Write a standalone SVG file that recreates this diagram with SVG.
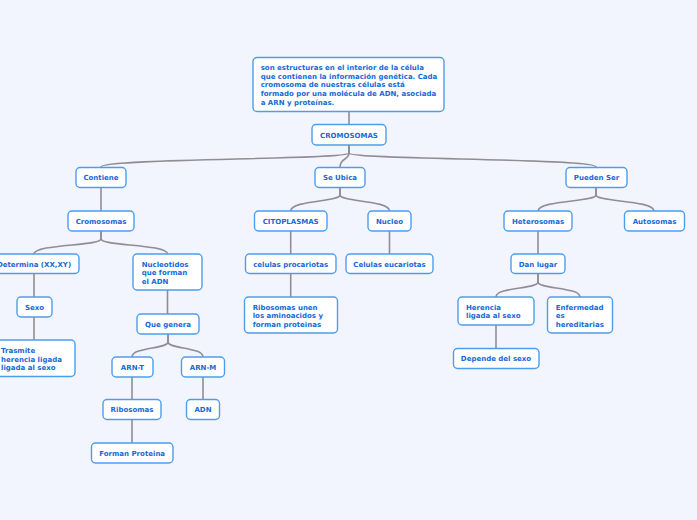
<svg xmlns="http://www.w3.org/2000/svg" width="697" height="520" viewBox="0 0 697 520">
<style>
.n rect{fill:#ffffff;stroke:#4c9df0;stroke-width:1.4}
.n text{fill:#1768d6;font-family:"DejaVu Sans",Verdana,sans-serif;font-weight:bold;font-size:7px}
.c{text-anchor:middle}
#connectors path{fill:none;stroke:#8e8e94;stroke-width:1.6}
</style>
<rect x="0" y="0" width="697" height="520" fill="#f2f5fd"/>
<g id="connectors">
<path d="M349 112V124"/>
<path d="M349 145V153C349 160 101 158 101 167"/>
<path d="M349 145V153C349 160 340 158 340 167"/>
<path d="M349 145V153C349 160 596 158 596 167"/>
<path d="M101 187V211"/>
<path d="M101 231V239C101 246 34 244 34 254"/>
<path d="M101 231V239C101 246 167.5 244 167.5 254"/>
<path d="M34 274V297"/>
<path d="M34 317V340"/>
<path d="M167.5 290V314"/>
<path d="M168 334V342C168 349 132 347 132 357"/>
<path d="M168 334V342C168 349 203 347 203 357"/>
<path d="M132 377V399"/>
<path d="M132 419V443"/>
<path d="M203 377V399"/>
<path d="M340 187V195C340 202 290.7 200 290.7 211"/>
<path d="M340 187V195C340 202 389.5 200 389.5 211"/>
<path d="M290.7 231V254"/>
<path d="M290.7 274V297"/>
<path d="M389.5 231V254"/>
<path d="M596 187V195C596 202 538 200 538 211"/>
<path d="M596 187V195C596 202 654 200 654 211"/>
<path d="M538 231V254"/>
<path d="M538 274V282C538 289 496 287 496 297"/>
<path d="M538 274V282C538 289 580 287 580 297"/>
<path d="M496 325V348"/>
</g>
<g id="n-def" class="n"><rect x="253" y="57.5" width="191" height="54" rx="4"/>
<text x="260.7" y="69.8">son estructuras en el interior de la célula</text>
<text x="260.7" y="78.5">que contienen la información genética. Cada</text>
<text x="260.7" y="87.2">cromosoma de nuestras células está</text>
<text x="260.7" y="95.9">formado por una molécula de ADN, asociada</text>
<text x="260.7" y="104.6">a ARN y proteínas.</text></g>
<g id="n-cromosomas" class="n"><rect x="312" y="124.5" width="74" height="20.5" rx="4"/><text class="c" x="349" y="137.5">CROMOSOMAS</text></g>
<g id="n-contiene" class="n"><rect x="76" y="167.5" width="50" height="20" rx="4"/><text class="c" x="101" y="180">Contiene</text></g>
<g id="n-seubica" class="n"><rect x="315" y="167.5" width="50" height="20" rx="4"/><text class="c" x="340" y="180">Se Ubica</text></g>
<g id="n-puedenser" class="n"><rect x="566" y="167.5" width="61" height="20" rx="4"/><text class="c" x="596.5" y="180">Pueden Ser</text></g>
<g id="n-cromosomas2" class="n"><rect x="68" y="211" width="66" height="20" rx="4"/><text class="c" x="101" y="223.5">Cromosomas</text></g>
<g id="n-determina" class="n"><rect x="-11" y="254" width="90" height="19.5" rx="4"/><text class="c" x="34" y="266.5">Determina (XX,XY)</text></g>
<g id="n-sexo" class="n"><rect x="17" y="297" width="35" height="20" rx="4"/><text class="c" x="34.5" y="309.5">Sexo</text></g>
<g id="n-trasmite" class="n"><rect x="-10" y="340" width="85" height="36.5" rx="4"/>
<text x="1" y="353.2">Trasmite</text><text x="1" y="361.5">herencia ligada</text><text x="1" y="369.8">ligada al sexo</text></g>
<g id="n-nucleotidos" class="n"><rect x="133" y="254" width="69" height="36" rx="4"/>
<text x="141.7" y="266.8">Nucleotidos</text><text x="141.7" y="275.2">que forman</text><text x="141.7" y="283.5">el ADN</text></g>
<g id="n-quegenera" class="n"><rect x="137" y="314" width="62" height="20" rx="4"/><text class="c" x="168" y="326.5">Que genera</text></g>
<g id="n-arnt" class="n"><rect x="112" y="357" width="41" height="20" rx="4"/><text class="c" x="132.5" y="369.5">ARN-T</text></g>
<g id="n-arnm" class="n"><rect x="181.5" y="357" width="43" height="20" rx="4"/><text class="c" x="203" y="369.5">ARN-M</text></g>
<g id="n-ribosomas" class="n"><rect x="103" y="399.5" width="58" height="20" rx="4"/><text class="c" x="132" y="412">Ribosomas</text></g>
<g id="n-adn" class="n"><rect x="186.5" y="399.5" width="33" height="20" rx="4"/><text class="c" x="203" y="412">ADN</text></g>
<g id="n-forman" class="n"><rect x="91.5" y="443" width="81.5" height="20" rx="4"/><text class="c" x="132.2" y="455.5">Forman Proteina</text></g>
<g id="n-citoplasmas" class="n"><rect x="254.5" y="211" width="72.5" height="20" rx="4"/><text class="c" x="290.7" y="223.5">CITOPLASMAS</text></g>
<g id="n-nucleo" class="n"><rect x="368" y="211" width="43" height="20" rx="4"/><text class="c" x="389.5" y="223.5">Nucleo</text></g>
<g id="n-procariotas" class="n"><rect x="245.5" y="254" width="90.5" height="19.5" rx="4"/><text class="c" x="290.7" y="266.5">celulas procariotas</text></g>
<g id="n-eucariotas" class="n"><rect x="346" y="254" width="87" height="19.5" rx="4"/><text class="c" x="389.5" y="266.5">Celulas eucariotas</text></g>
<g id="n-ribounen" class="n"><rect x="244.5" y="297" width="93" height="36" rx="4"/>
<text x="252.7" y="309.8">Ribosomas unen</text><text x="252.7" y="318.2">los aminoacidos y</text><text x="252.7" y="326.6">forman proteinas</text></g>
<g id="n-heterosomas" class="n"><rect x="504" y="211" width="68" height="20" rx="4"/><text class="c" x="538" y="223.5">Heterosomas</text></g>
<g id="n-autosomas" class="n"><rect x="624.5" y="211" width="60" height="20" rx="4"/><text class="c" x="654.5" y="223.5">Autosomas</text></g>
<g id="n-danlugar" class="n"><rect x="511" y="254" width="54" height="19.5" rx="4"/><text class="c" x="538" y="266.5">Dan lugar</text></g>
<g id="n-herencia" class="n"><rect x="458" y="297" width="76" height="28" rx="4"/>
<text x="466" y="309.8">Herencia</text><text x="466" y="318.2">ligada al sexo</text></g>
<g id="n-enfermedad" class="n"><rect x="547.5" y="297" width="65" height="36" rx="4"/>
<text x="555.7" y="309.8">Enfermedad</text><text x="555.7" y="318.2">es</text><text x="555.7" y="326.6">hereditarias</text></g>
<g id="n-depende" class="n"><rect x="453.5" y="348.5" width="85.5" height="20" rx="4"/><text class="c" x="496" y="361">Depende del sexo</text></g>
</svg>
